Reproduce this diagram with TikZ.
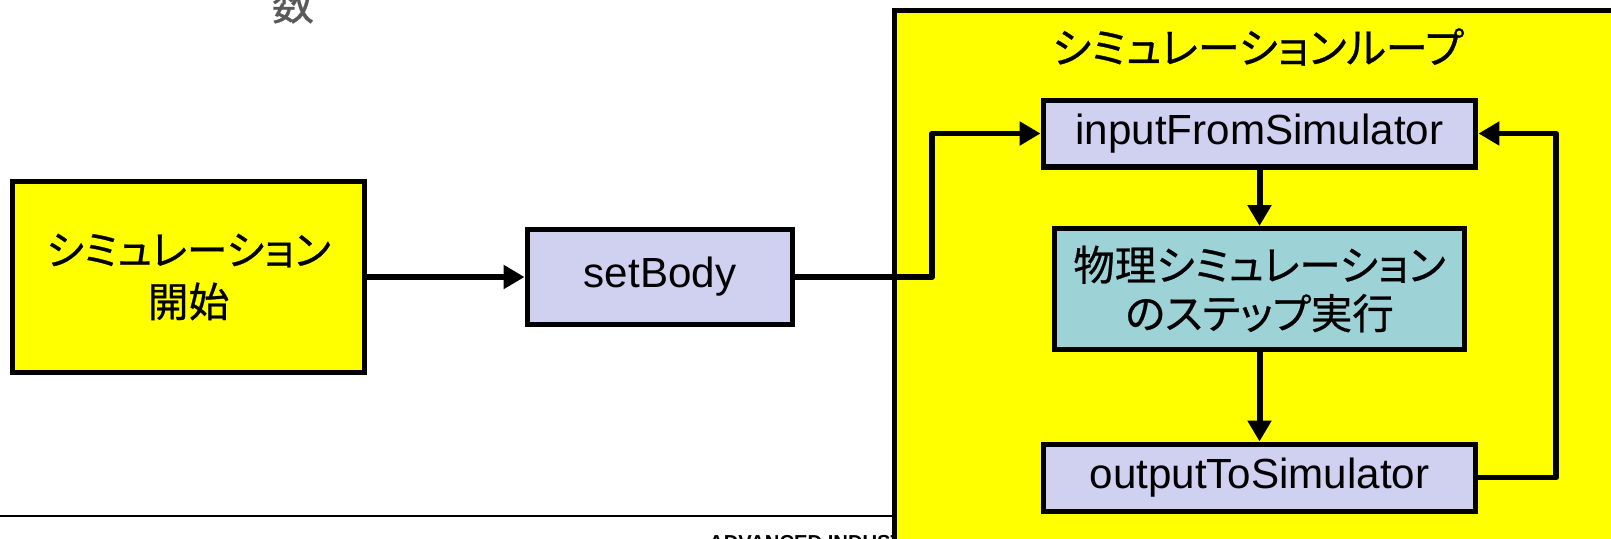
\documentclass[tikz,border=0pt]{standalone}
\usepackage{fontspec}
\setmainfont{Liberation Sans}
\newfontfamily\jp{Noto Sans CJK JP}[RawFeature=+palt, FakeBold=0.6]
\usetikzlibrary{arrows.meta}
\definecolor{boxyellow}{RGB}{255,255,0}
\definecolor{lavbox}{HTML}{D0D0F0}
\definecolor{tealbox}{HTML}{9DD2D7}
\definecolor{graytxt}{HTML}{595959}
\tikzset{
  box/.style={draw=black, line width=2.85pt, inner sep=0pt, align=center},
  lav/.style={box, fill=lavbox, minimum width=8.66cm, minimum height=1.34cm,
    font=\fontsize{24}{29}\selectfont},
  flow/.style={line width=3.4pt, line join=round,
    -{Triangle[length=4.2mm,width=4.6mm]}}
}

\begin{document}
\begin{tikzpicture}[x=0.02cm,y=-0.02cm]
\useasboundingbox (0,0) rectangle (1611,538);
\node[anchor=base, text=graytxt, font=\fontsize{24}{29}\selectfont\jp] (kazu) at (293,20) {数};
\draw[line width=0.9pt] (0,516) -- (900,516);
\node[anchor=base west, font=\fontsize{11.5}{14}\selectfont\bfseries] (org) at (703,549) {ADVANCED INDUSTRIAL};
\filldraw[fill=boxyellow, line width=2.85pt] (894,10) rectangle (1660,600);
\node[font=\fontsize{24}{29}\selectfont\jp] (title) at (1258,47) {シミュレーションループ};

\node[box, fill=boxyellow, minimum width=7.06cm, minimum height=3.82cm,
  font=\fontsize{23.2}{29.5}\selectfont\jp] (start) at (188.5,277) {シミュレーション\\開始};
\node[box, fill=lavbox, minimum width=5.32cm, minimum height=1.9cm,
  font=\fontsize{24}{29}\selectfont] (setbody) at (660,277) {setBody};
\node[lav] (input) at (1259.5,133.5) {inputFromSimulator};
\node[box, fill=tealbox, minimum width=8.22cm, minimum height=2.42cm,
  font=\fontsize{23.6}{27.5}\selectfont\jp] (phys) at (1259.5,289) {物理シミュレーション\\のステップ実行};
\node[lav] (output) at (1259.5,477.5) {outputToSimulator};

\coordinate (inbend) at (932,133.5);
\coordinate (backbend) at (1556,133.5);
\draw[flow] (start) -- (setbody);
\draw[flow] (setbody.east) -| (inbend) -- (input.west);
\draw[flow] (input) -- (phys);
\draw[flow] (phys) -- (output);
\draw[flow] (output.east) -| (backbend) -- (input.east);
\end{tikzpicture}
\end{document}
